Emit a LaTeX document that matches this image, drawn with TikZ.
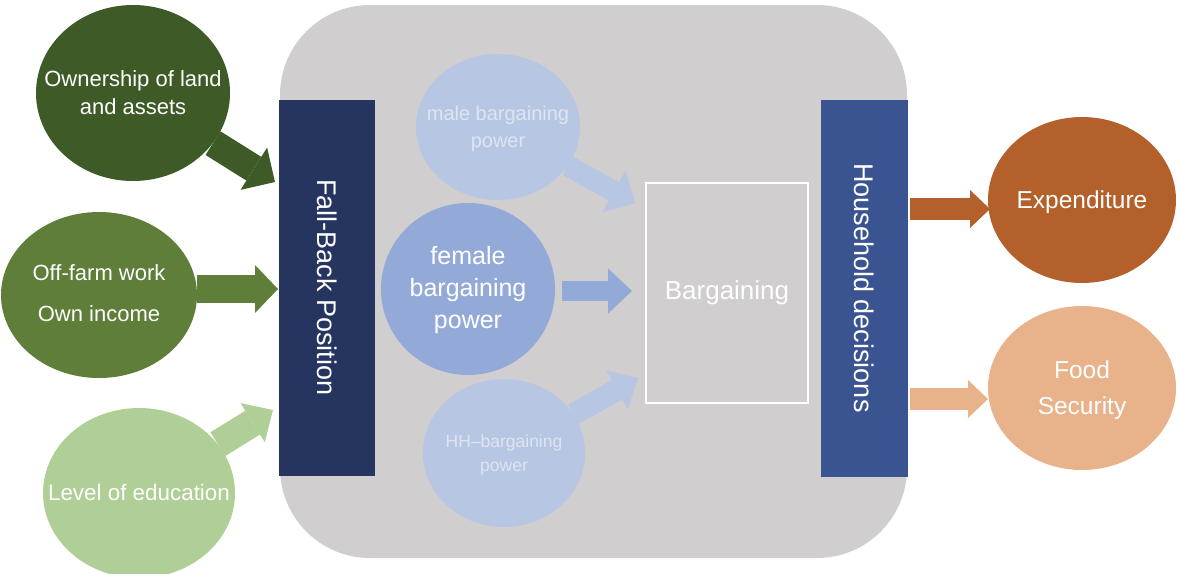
\documentclass[tikz,border=0pt]{standalone}
\usepackage{fontspec}
\setmainfont{Liberation Sans}
\usetikzlibrary{shapes.geometric,arrows.meta,calc}

\definecolor{ownGreen}{HTML}{3E5A27}
\definecolor{offGreen}{HTML}{5E7E39}
\definecolor{eduGreen}{HTML}{AFCF96}
\definecolor{panelGray}{HTML}{D0CECF}
\definecolor{fbNavy}{HTML}{263560}
\definecolor{hdBlue}{HTML}{3A5491}
\definecolor{paleBlue}{HTML}{B7C7E3}
\definecolor{midBlue}{HTML}{93AAD8}
\definecolor{paleText}{HTML}{DEE4F0}
\definecolor{expBrown}{HTML}{B3602A}
\definecolor{foodPeach}{HTML}{E8B28A}

\newcommand{\fsz}[2]{\fontsize{#1}{#2}\selectfont}

\begin{document}
\begin{tikzpicture}[x=1pt,y=-1pt,
  blob/.style={ellipse, inner sep=0pt, draw=none},
  label text/.style={text=white, align=center, inner sep=0pt},
  bar/.style={rectangle, inner sep=0pt, text=white},
  blockarrow/.style n args={3}{line width=#1,
      -{Triangle[width=#2,length=#3,line width=0pt]}}
]
\useasboundingbox (0,0) rectangle (1177,573);

% grey panel holding the bargaining process
\node[rectangle, fill=panelGray, rounded corners=90pt, inner sep=0pt,
      minimum width=627pt, minimum height=553pt] (panel) at (593.5,281.5) {};

% vertical bars
\node[bar, fill=fbNavy, minimum width=96pt, minimum height=376pt,
      font=\fsz{27}{32}] (fb) at (327,287.5)
  {\rotatebox{-90}{Fall-Back Position}};
\node[bar, fill=hdBlue, minimum width=87pt, minimum height=377pt,
      font=\fsz{27}{32}] (hd) at (864.5,288)
  {\rotatebox{-90}{Household decisions}};

% bargaining box
\node[rectangle, draw=white, line width=2pt, inner sep=0pt, text=white,
      minimum width=162pt, minimum height=220pt, font=\fsz{26}{30}] (barg) at (727,293)
  {Bargaining};

% left drivers
\node[blob, fill=ownGreen, minimum width=194pt, minimum height=176pt] (own) at (133,93) {};
\node[label text, font=\fsz{22}{28}] (own-t) at (133,93) {Ownership of land\\and assets};

\node[blob, fill=offGreen, minimum width=196pt, minimum height=166pt] (off) at (99,295) {};
\node[label text, font=\fsz{22}{41}] (off-t) at (99,293) {Off-farm work\\Own income};

\node[blob, fill=eduGreen, minimum width=192pt, minimum height=170pt] (edu) at (139,493) {};
\node[label text, font=\fsz{22.4}{28}] (edu-t) at (139,492) {Level of education};

% bargaining powers
\node[blob, fill=paleBlue, minimum width=164pt, minimum height=146pt] (male) at (498,127) {};
\node[label text, text=paleText, font=\fsz{20}{27}] (male-t) at (498,129) {male bargaining\\power};

\node[blob, fill=midBlue, minimum width=174pt, minimum height=172pt] (fem) at (468,289) {};
\node[label text, font=\fsz{25}{32}] (fem-t) at (468,290) {female\\bargaining\\power};

\node[blob, fill=paleBlue, minimum width=162pt, minimum height=148pt] (hh) at (504,453) {};
\node[label text, text=paleText, font=\fsz{17.5}{24}] (hh-t) at (504,455) {HH–bargaining\\power};

% outcomes
\node[blob, fill=expBrown, minimum width=188pt, minimum height=166pt] (exp) at (1082,200) {};
\node[label text, font=\fsz{24.5}{30}] (exp-t) at (1082,202) {Expenditure};

\node[blob, fill=foodPeach, minimum width=188pt, minimum height=164pt] (food) at (1082,388) {};
\node[label text, font=\fsz{24.5}{36}] (food-t) at (1082,390) {Food\\Security};

% arrow tips
\coordinate (t1) at (275,182);
\coordinate (t2) at (278,289);
\coordinate (t3) at (273,410);
\coordinate (t4) at (635,203);
\coordinate (t5) at (632,291);
\coordinate (t6) at (638,378);
\coordinate (t7) at (990,209);
\coordinate (t8) at (988,399);

% block arrows
\draw[blockarrow={28pt}{50pt}{25pt}, draw=ownGreen] (own) -- (t1);
\draw[blockarrow={28pt}{48pt}{23pt}, draw=offGreen] (off.east |- t2) -- (t2);
\draw[blockarrow={28pt}{46pt}{24pt}, draw=eduGreen] (edu) -- (t3);
\draw[blockarrow={21pt}{48pt}{24pt}, draw=paleBlue] (male) -- (t4);
\draw[blockarrow={20pt}{45pt}{24pt}, draw=midBlue, shorten <=7pt] (fem.east |- t5) -- (t5);
\draw[blockarrow={22pt}{44pt}{24pt}, draw=paleBlue] (hh) -- (t6);
\draw[blockarrow={22pt}{38pt}{20pt}, draw=expBrown, shorten <=2pt] (hd.east |- t7) -- (t7);
\draw[blockarrow={22pt}{38pt}{20pt}, draw=foodPeach, shorten <=2pt] (hd.east |- t8) -- (t8);
\end{tikzpicture}
\end{document}
